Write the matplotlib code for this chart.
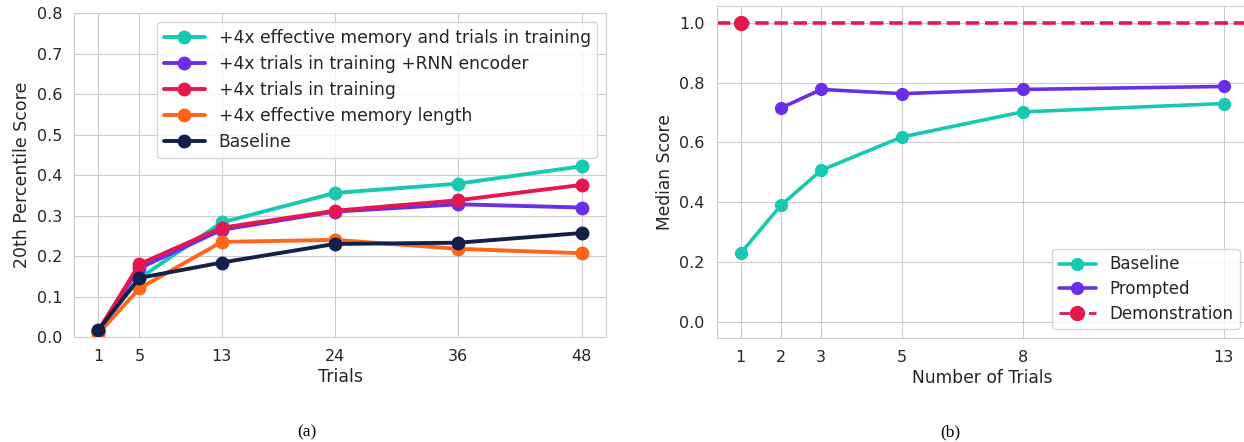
'''
    Score vs. number of trials, two panels
'''

import matplotlib
matplotlib.use('Agg')
import matplotlib.pyplot as plt
import seaborn as sns

# panel (a)
trials_a = [1, 5, 13, 24, 36, 48]
mem_and_trials = [0.015, 0.145, 0.283, 0.356, 0.379, 0.422]
trials_rnn = [0.015, 0.170, 0.265, 0.310, 0.328, 0.320]
trials_train = [0.015, 0.180, 0.270, 0.312, 0.338, 0.376]
mem_length = [0.008, 0.120, 0.235, 0.240, 0.218, 0.207]
baseline_a = [0.017, 0.146, 0.184, 0.230, 0.233, 0.257]
labels_a = ['+4x effective memory and trials in training',
            '+4x trials in training +RNN encoder',
            '+4x trials in training',
            '+4x effective memory length',
            'Baseline']

# panel (b)
trials_b = [1, 2, 3, 5, 8, 13]
baseline_b = [0.230, 0.390, 0.507, 0.618, 0.702, 0.730]
trials_prompted = [2, 3, 5, 8, 13]
prompted = [0.715, 0.777, 0.763, 0.777, 0.787]
demo_trial = [1]
demo_score = [1.0]

TEAL = '#17c9b3'
PURPLE = '#6a2ee8'
CRIMSON = '#e5174f'
ORANGE = '#ff651c'
NAVY = '#15204a'

sns.set_style('whitegrid')
plt.rcParams['font.family'] = ['DejaVu Sans']
plt.rcParams['text.color'] = '#262626'
plt.rcParams['axes.labelcolor'] = '#262626'
plt.rcParams['xtick.color'] = '#262626'
plt.rcParams['ytick.color'] = '#262626'

fig = plt.figure(figsize=(12.44, 4.42), dpi=100)
W, H = 1244.0, 442.0

# left panel
ax1 = fig.add_axes([74 / W, 1 - 337 / H, (606 - 74) / W, (337 - 13.3) / H])
series = [mem_and_trials, trials_rnn, trials_train, mem_length, baseline_a]
colors = [TEAL, PURPLE, CRIMSON, ORANGE, NAVY]
for ys, c, lab in zip(series, colors, labels_a):
    ax1.plot(trials_a, ys, '-o', color=c, lw=2.8, ms=9, label=lab)
ax1.set_ylim(0, 0.8)
ax1.set_xticks(trials_a)
ax1.set_xlabel('Trials', fontsize=12.5, labelpad=3)
ax1.set_ylabel('20th Percentile Score', fontsize=12.5)
ax1.tick_params(labelsize=11.5, pad=5)
ax1.legend(loc='upper right', fontsize=12.3, handlelength=2.4,
           borderaxespad=0.5, labelspacing=0.48)

# right panel
ax2 = fig.add_axes([716.6 / W, 1 - 337.7 / H, (1248 - 716.6) / W, (337.7 - 5.7) / H])
ax2.plot(trials_b, baseline_b, '-o', color=TEAL, lw=2.6, ms=8.5, label='Baseline')
ax2.plot(trials_prompted, prompted, '-o', color=PURPLE, lw=2.6, ms=8.5, label='Prompted')
ax2.axhline(demo_score[0], color=CRIMSON, ls='--', lw=2.6)
ax2.plot(demo_trial, demo_score, 'o--', color=CRIMSON, lw=2.0, ms=10, label='Demonstration')
ax2.set_xlim(0.4, 13.6)
ax2.set_ylim(-0.053, 1.057)
ax2.set_xticks(trials_b)
ax2.set_yticks([0.0, 0.2, 0.4, 0.6, 0.8, 1.0])
ax2.set_xlabel('Number of Trials', fontsize=12.3, labelpad=3)
ax2.set_ylabel('Median Score', fontsize=12.3)
ax2.tick_params(labelsize=11.5, pad=5)
ax2.legend(loc='lower right', fontsize=12, handlelength=2.2,
           borderaxespad=0.5, labelspacing=0.4)

for ax in (ax1, ax2):
    for s in ax.spines.values():
        s.set_color('#cccccc')

fig.text(307 / W, 1 - 432 / H, '(a)', ha='center', va='center',
         family='Liberation Serif', fontsize=12.5, color='black')
fig.text(950 / W, 1 - 432 / H, '(b)', ha='center', va='center',
         family='Liberation Serif', fontsize=12.5, color='black')

fig.savefig('out.png', dpi=100)
